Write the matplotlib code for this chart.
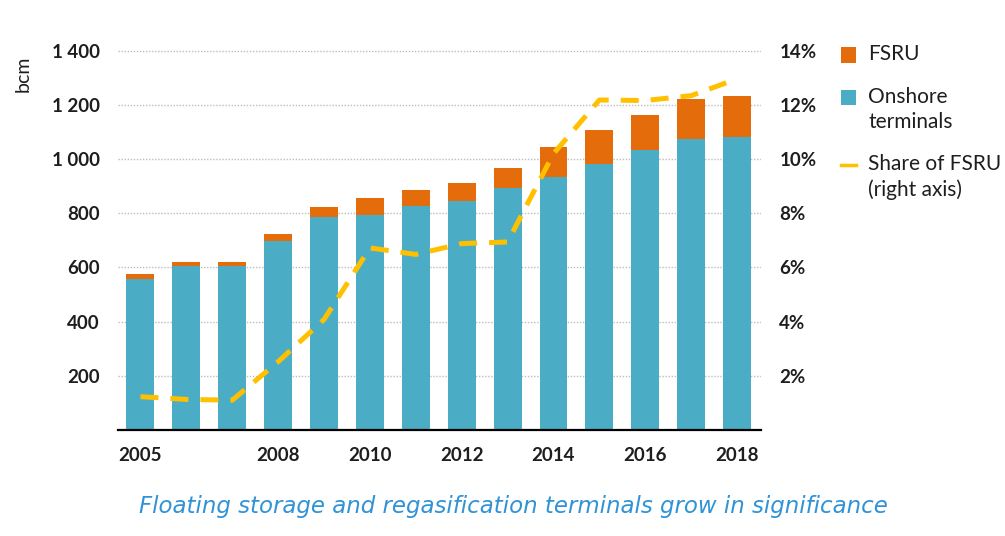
import matplotlib
matplotlib.use("Agg")
import matplotlib.pyplot as plt
from matplotlib.patches import Rectangle
from matplotlib.lines import Line2D
import numpy as np

years = [2005, 2006, 2007, 2008, 2009, 2010, 2011, 2012, 2013, 2014, 2015, 2016, 2017, 2018]
onshore = [559, 605, 605, 698, 785, 792, 825, 847, 894, 935, 981, 1035, 1075, 1082]
fsru = [16, 16, 16, 24, 39, 64, 62, 63, 73, 108, 126, 126, 148, 149]
share = [1.23, 1.13, 1.10, 2.52, 4.08, 6.72, 6.48, 6.88, 6.94, 10.2, 12.18, 12.16, 12.34, 12.96]
xtick_years = [2005, 2008, 2010, 2012, 2014, 2016, 2018]
left_ticks = [200, 400, 600, 800, 1000, 1200, 1400]
right_ticks = [2, 4, 6, 8, 10, 12, 14]
legend_labels = ["FSRU", "Onshore\nterminals", "Share of FSRU\n(right axis)"]
caption = "Floating storage and regasification terminals grow in significance"

C_ON = "#4BACC6"
C_FS = "#E46C0A"
C_LINE = "#FFC000"
C_TXT = "#1e1e1e"
FONT = "Lato"
FS = 13.5
TW = "bold"

W, H = 1005, 536
fig = plt.figure(figsize=(W / 100, H / 100), dpi=100)
ax = fig.add_axes([0.1174, 0.19776, 0.6402, 0.7178])
x = np.arange(len(years))
ax.bar(x, onshore, width=0.61, color=C_ON, zorder=2)
ax.bar(x, fsru, bottom=onshore, width=0.61, color=C_FS, zorder=2)
ax.set_xlim(-0.49, 13.53)
ax.set_ylim(0, 1420)
ax.set_yticks(left_ticks)
ax.set_yticklabels([f"{v:,}".replace(",", " ") for v in left_ticks])
ax.set_xticks([years.index(y) for y in xtick_years])
ax.set_xticklabels([str(y) for y in xtick_years])
ax.grid(axis="y", linestyle=(0, (1, 1.2)), color="#BDBDBD", linewidth=1.0, zorder=0)
for s in ["top", "right", "left"]:
    ax.spines[s].set_visible(False)
ax.spines["bottom"].set_color("black")
ax.spines["bottom"].set_linewidth(1.6)
ax.spines["bottom"].set_zorder(4)
ax.tick_params(axis="y", length=0, pad=13, labelsize=FS, labelcolor=C_TXT)
ax.tick_params(axis="x", length=0, pad=12, labelsize=FS, labelcolor=C_TXT)
for lab in ax.get_xticklabels() + ax.get_yticklabels():
    lab.set_fontfamily(FONT)
    lab.set_fontweight(TW)

fig.text(23 / W, 1 - 56 / H, "bcm", rotation=90, ha="center", va="top",
         fontsize=14, color=C_TXT, family=FONT)

ax2 = ax.twinx()
ax2.set_ylim(0, 14.2)
ax2.plot(x, share, color=C_LINE, linewidth=3.6, linestyle=(0, (3.6, 2.4)),
         dash_capstyle="butt", zorder=5)
ax2.set_yticks(right_ticks)
ax2.set_yticklabels([f"{v}%" for v in right_ticks])
ax2.tick_params(axis="y", length=0, pad=13, labelsize=FS, labelcolor=C_TXT)
for lab in ax2.get_yticklabels():
    lab.set_fontfamily(FONT)
    lab.set_fontweight(TW)
for s in ax2.spines.values():
    s.set_visible(False)

# manual legend (handles aligned with first text line)
leg_y = [55, 98, 165]          # first-line centre, pixels from top
hx0, hsize, tx = 841, 15, 868
for i, lab in enumerate(legend_labels):
    yc = leg_y[i]
    if i < 2:
        col = C_FS if i == 0 else C_ON
        fig.patches.append(Rectangle((hx0 / W, 1 - (yc + hsize / 2) / H), hsize / W, hsize / H,
                                     transform=fig.transFigure, facecolor=col, edgecolor="none"))
    else:
        fig.lines.append(Line2D([hx0 / W, (hx0 + hsize) / W], [1 - yc / H, 1 - yc / H],
                                transform=fig.transFigure, color=C_LINE, linewidth=2.5))
    fig.text(tx / W, 1 - (yc - 11) / H, lab, ha="left", va="top", fontsize=15,
             family=FONT, color=C_TXT, linespacing=1.3)

fig.text(0.511, 0.055, caption, ha="center", va="center", fontsize=16.5,
         style="italic", color="#2F93D6", family="DejaVu Sans")

fig.savefig("out.png", dpi=100)
